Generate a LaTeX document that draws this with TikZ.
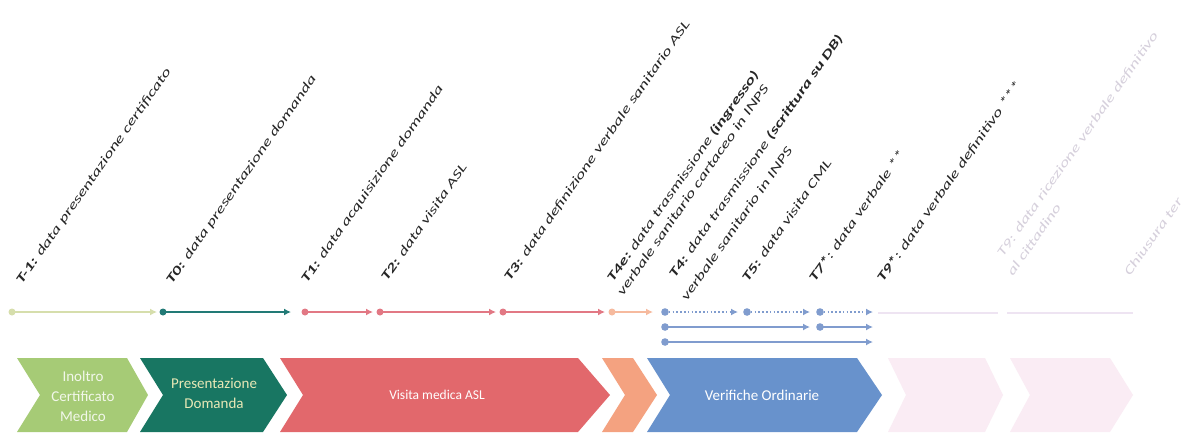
\documentclass[tikz,border=0pt]{standalone}
\usepackage{fontspec}
\setmainfont{Carlito}
\newfontfamily\lblfont[FakeStretch=1.5]{Carlito}
\usetikzlibrary{arrows.meta}
\definecolor{cgreen}{RGB}{166,203,118}
\definecolor{cteal}{RGB}{24,118,98}
\definecolor{cred}{RGB}{226,104,108}
\definecolor{corange}{RGB}{244,162,128}
\definecolor{cblue}{RGB}{104,146,204}
\definecolor{cpink}{RGB}{250,236,244}
\definecolor{lgreen}{RGB}{214,222,172}
\definecolor{lteal}{RGB}{34,122,118}
\definecolor{lred}{RGB}{226,120,132}
\definecolor{lorange}{RGB}{246,186,158}
\definecolor{lblue}{RGB}{128,156,206}
\definecolor{lpink}{RGB}{238,228,242}
\definecolor{fadetext}{RGB}{214,208,220}
\definecolor{tealtext}{RGB}{232,232,182}
\begin{document}
\begin{tikzpicture}[x=1pt,y=-1pt,
  lbl/.style={anchor=base west, rotate=55, inner sep=0pt, font=\lblfont\itshape\fontsize{12.5}{13}\selectfont, text=black!85},
  fadelbl/.style={lbl, text=fadetext},
  seg/.style={line width=2.6pt, -{Latex[length=7pt,width=7pt]}, shorten >=0pt},
  dotseg/.style={seg, dash pattern=on 1.6pt off 2.2pt},
  chevtext/.style={font=\fontsize{15}{20}\selectfont, text=white, align=center, inner sep=0pt}
]
\useasboundingbox[fill=white] (0,0) rectangle (1189,432);

% ---------- diagonal labels ----------
\node[lbl] (tm1) at (22,285) {\textbf{T-1:} data presentazione certificato};
\node[lbl] (t0) at (172,285) {\textbf{T0:} data presentazione domanda};
\node[lbl] (t1) at (307,284) {\textbf{T1:} data acquisizione domanda};
\node[lbl] (t2) at (387,282) {\textbf{T2:} data visita ASL};
\node[lbl] (t3) at (510,282) {\textbf{T3:} data definizione verbale sanitario ASL};
\node[lbl] (t4ea) at (613,283) {\textbf{T4e:} data trasmissione \textbf{(ingresso)}};
\node[lbl] (t4eb) at (623,297) {verbale sanitario cartaceo in INPS};
\node[lbl] (t4a) at (675,279) {\textbf{T4:} data trasmissione \textbf{(scrittura su DB)}};
\node[lbl] (t4b) at (687,302) {verbale sanitario in INPS};
\node[lbl] (t5) at (748,283) {\textbf{T5:} data visita CML};
\node[lbl] (t7) at (815,283) {\textbf{T7*}: data verbale **};
\node[lbl] (t9s) at (883,283) {\textbf{T9*}: data verbale definitivo ***};
\node[fadelbl] (t9a) at (1003,258) {T9: data ricezione verbale definitivo};
\node[fadelbl] (t9b) at (1013,277) {al cittadino};
\node[fadelbl] (chi) at (1130,277) {Chiusura ter};

% ---------- timeline ----------
\foreach \n/\x/\y in {g0/12/312, g1/157/312, q0/163/312, q1/291/312,
  r0/305/312, r1/373/312, r2/380/312, r3/496/312, r4/503/312, r5/605/312,
  o0/612/312, o1/653/312,
  b0/665/312, b1/738/312, b2/747/312, b3/810/312, b4/820/312, b5/873/312,
  c0/665/327, c1/810/327, c2/820/327, c3/873/327,
  d0/665/342, d1/873/342,
  p0/878/313, p1/998/313, p2/1007/313, p3/1133/313}
  \coordinate (\n) at (\x,\y);

\draw[seg, lgreen] (g0) -- (g1);
\fill[lgreen] (g0) circle (3.5pt);
\draw[seg, lteal] (q0) -- (q1);
\fill[lteal] (q0) circle (3.5pt);
\foreach \a/\b in {r0/r1, r2/r3, r4/r5} {
  \draw[seg, lred] (\a) -- (\b);
  \fill[lred] (\a) circle (3.5pt);
}
\draw[seg, lorange] (o0) -- (o1);
\fill[lorange] (o0) circle (3.5pt);
\foreach \a/\b in {b0/b1, b2/b3, b4/b5} {
  \draw[dotseg, lblue] (\a) -- (\b);
  \fill[lblue] (\a) circle (3.8pt);
}
\foreach \a/\b in {c0/c1, c2/c3, d0/d1} {
  \draw[seg, lblue] (\a) -- (\b);
  \fill[lblue] (\a) circle (3.8pt);
}
\foreach \a/\b in {p0/p1, p2/p3} {
  \draw[line width=2pt, lpink] (\a) -- (\b);
}

% ---------- chevrons ----------
\fill[cgreen] (17,358) -- (127,358) -- (148,395) -- (127,432) -- (17,432) -- (40,395) -- cycle;
\node[chevtext, text=white!85!cgreen] (inoltro) at (83,396) {Inoltro\\Certificato\\Medico};
\fill[cteal] (140,358) -- (263,358) -- (287,395) -- (263,432) -- (140,432) -- (163,395) -- cycle;
\node[chevtext, text=tealtext] (pres) at (214,393) {Presentazione\\Domanda};
\fill[cred] (280,358) -- (578,358) -- (610,395) -- (578,432) -- (280,432) -- (303,395) -- cycle;
\node[chevtext, font=\fontsize{13.5}{16}\selectfont] (visita) at (437,395) {Visita medica ASL};
\fill[corange] (602,358) -- (633,358) -- (657,395) -- (633,432) -- (602,432) -- (625,395) -- cycle;
\fill[cblue] (647,358) -- (857,358) -- (882,395) -- (857,432) -- (647,432) -- (670,395) -- cycle;
\node[chevtext] (verif) at (762,395) {Verifiche Ordinarie};
\fill[cpink] (888,358) -- (985,358) -- (1003,395) -- (985,432) -- (888,432) -- (906,395) -- cycle;
\fill[cpink] (1010,358) -- (1110,358) -- (1133,395) -- (1110,432) -- (1010,432) -- (1030,395) -- cycle;
\end{tikzpicture}
\end{document}
